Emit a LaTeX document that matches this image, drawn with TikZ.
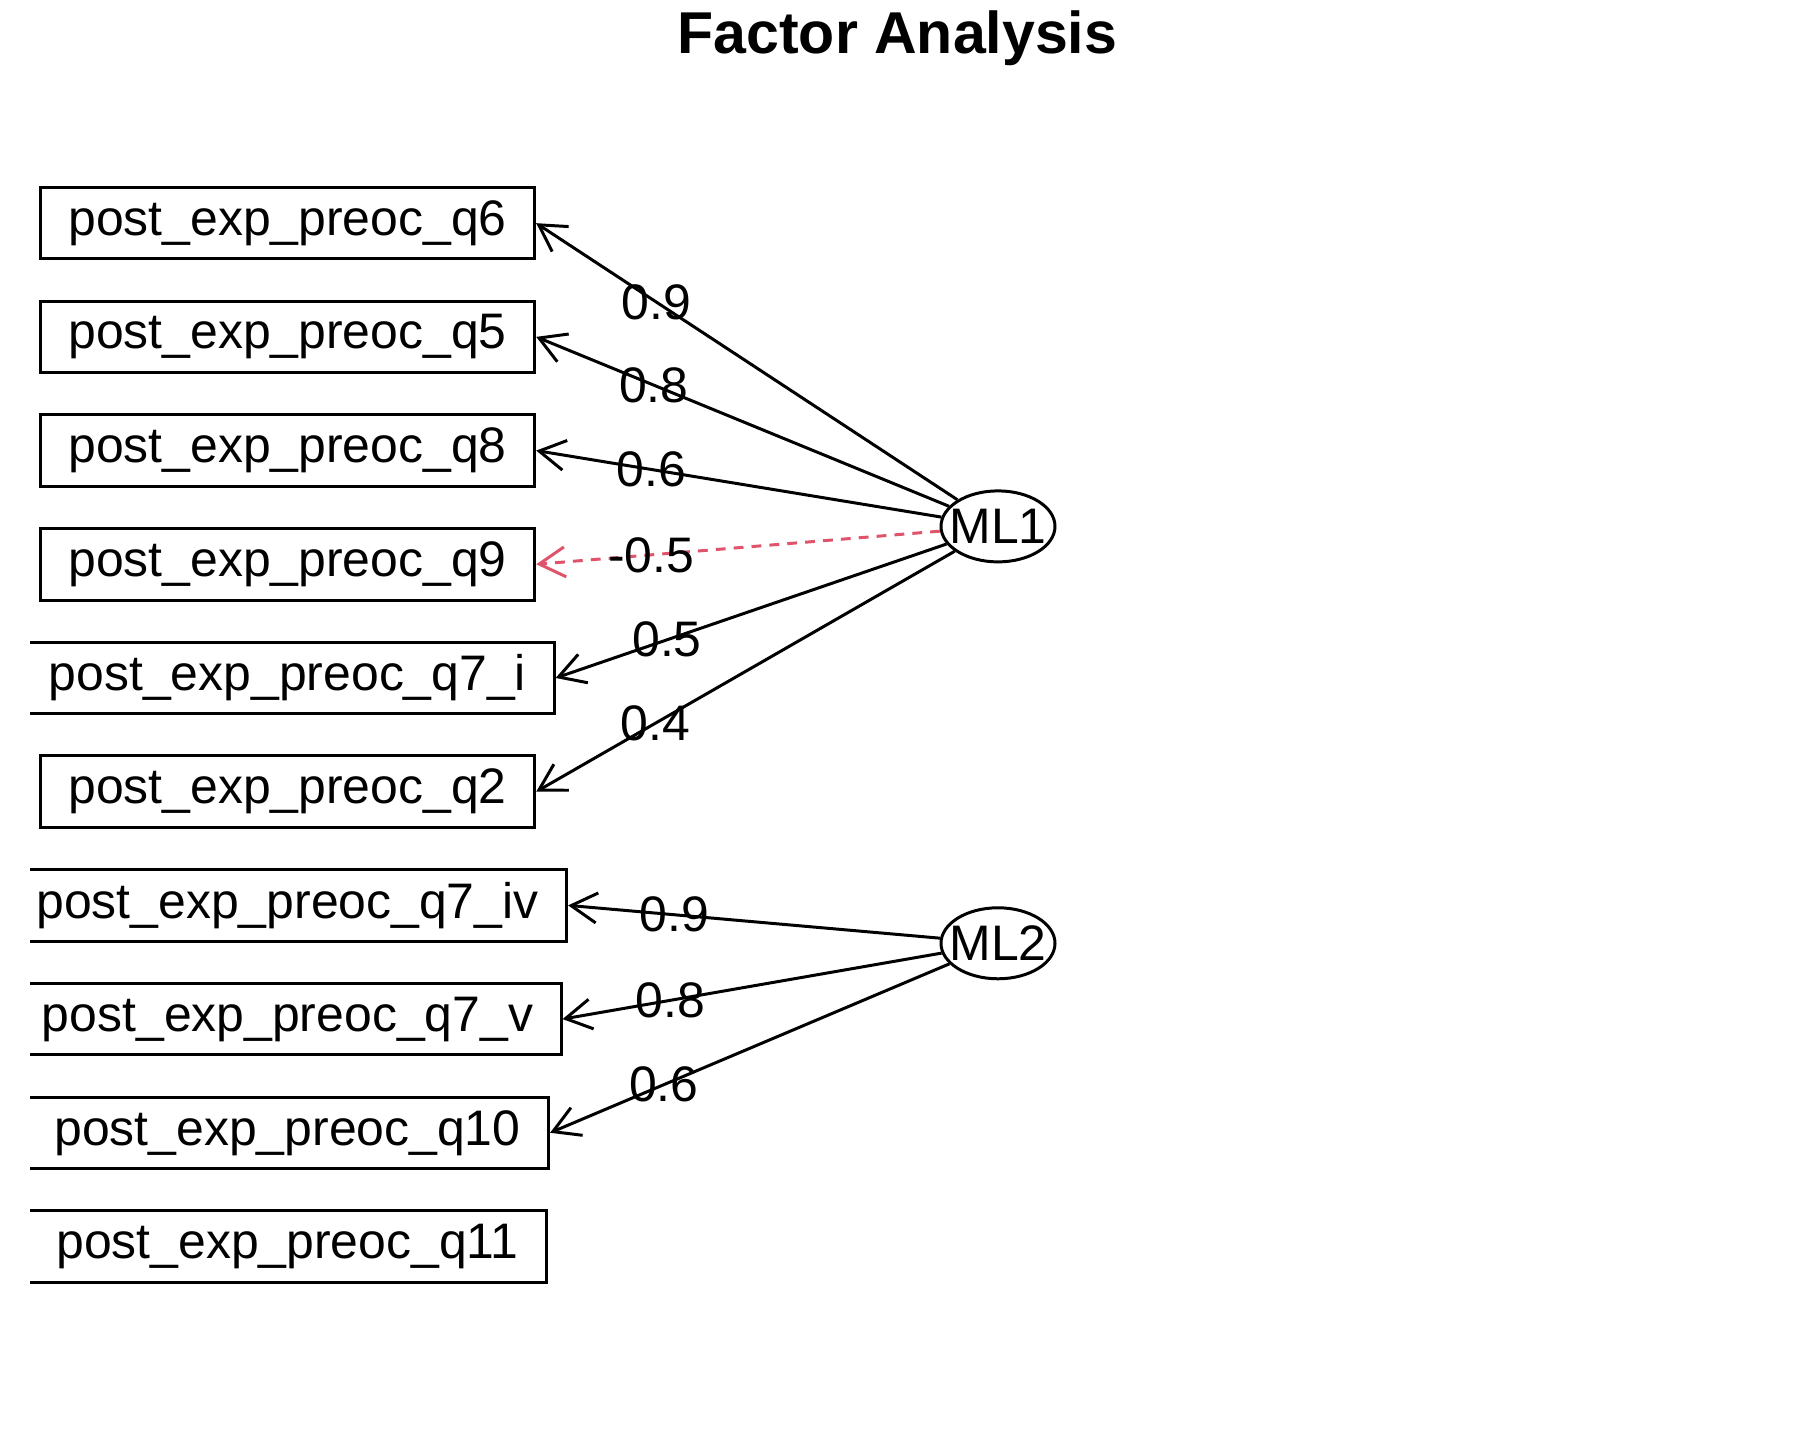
\documentclass[tikz,border=0pt]{standalone}
\usepackage{fontspec}
\setmainfont{Liberation Sans}
\usetikzlibrary{shapes.geometric,arrows.meta}
\definecolor{negred}{HTML}{DF536B}
\tikzset{
  var/.style={draw, line width=0.85pt, rectangle, inner xsep=0.28cm, inner ysep=0pt,
    minimum height=0.715cm, font=\fontsize{14.2}{17}\selectfont},
  factor/.style={draw, line width=0.85pt, ellipse, inner xsep=-0.12cm, inner ysep=0pt,
    minimum width=1.14cm, minimum height=0.71cm, font=\fontsize{14.2}{17}\selectfont},
  load/.style={line width=0.85pt, -{Straight Barb[length=0.26cm,width=0.30cm]}},
  negload/.style={negred, dash pattern=on 2.8pt off 2.3pt},
  lbl/.style={pos=0.715, inner sep=0pt, text=black, font=\fontsize{14.2}{17}\selectfont}
}
\begin{document}
\begin{tikzpicture}
\useasboundingbox (0,0) rectangle (18,14.4);
\fill[white] (0,0) rectangle (18,14.4);
\node[font=\bfseries\fontsize{16.8}{20}\selectfont, anchor=base] (title) at (8.974,13.867) {Factor Analysis};
% observed variables
\begin{scope}
\clip (0.30,0) rectangle (18,14.4);
\foreach \name/\txt [count=\i from 0] in {q6/post\_exp\_preoc\_q6, q5/post\_exp\_preoc\_q5,
    q8/post\_exp\_preoc\_q8, q9/post\_exp\_preoc\_q9, q7i/post\_exp\_preoc\_q7\_i,
    q2/post\_exp\_preoc\_q2, q7iv/post\_exp\_preoc\_q7\_iv, q7v/post\_exp\_preoc\_q7\_v,
    q10/post\_exp\_preoc\_q10, q11/post\_exp\_preoc\_q11}{
  \node[var] (\name) at (2.875,12.168-1.137*\i) {\txt};
}
\end{scope}
% factors
\node[factor] (ML1) at (9.98,9.136) {ML1};
\node[factor] (ML2) at (9.98,4.967) {ML2};
% loadings
\foreach \v/\w in {q6/0.9, q5/0.8, q8/0.6, q7i/0.5, q2/0.4}{
  \draw[load] (ML1) -- (\v.east) node[lbl] {\w};
}
\draw[load, negload] (ML1) -- (q9.east) node[lbl] {-0.5};
\foreach \v/\w in {q7iv/0.9, q7v/0.8, q10/0.6}{
  \draw[load] (ML2) -- (\v.east) node[lbl] {\w};
}
\end{tikzpicture}
\end{document}
